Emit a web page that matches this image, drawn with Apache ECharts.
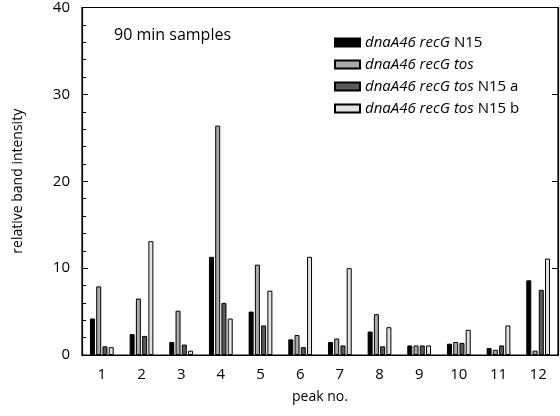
<!DOCTYPE html>
<html>
<head>
<meta charset="utf-8">
<script src="https://cdn.jsdelivr.net/npm/echarts@6/dist/echarts.min.js"></script>
<style>
  html, body { margin: 0; padding: 0; background: #fff; }
  #chart { width: 560px; height: 416px; }
</style>
</head>
<body>
<div id="chart"></div>
<script>
const peaks = ['1', '2', '3', '4', '5', '6', '7', '8', '9', '10', '11', '12']

// legend parts: italic part, plain part
const seriesItalic = ['dnaA46 recG', 'dnaA46 recG tos', 'dnaA46 recG tos', 'dnaA46 recG tos']
const seriesPlain = ['N15', '', 'N15 a', 'N15 b']
const seriesColors = ['#000000', '#aaaaaa', '#5a5a5a', '#e2e2e2']

const recgN15 = [4.2, 2.4, 1.5, 11.3, 5.0, 1.8, 1.5, 2.7, 1.1, 1.3, 0.8, 8.6]
const recgTos = [7.9, 6.5, 5.1, 26.4, 10.4, 2.3, 1.9, 4.7, 1.1, 1.5, 0.6, 0.5]
const tosN15a = [1.0, 2.2, 1.2, 6.0, 3.4, 0.9, 1.1, 1.0, 1.1, 1.4, 1.1, 7.5]
const tosN15b = [0.9, 13.1, 0.5, 4.2, 7.4, 11.3, 10.0, 3.2, 1.1, 2.9, 3.4, 11.1]

const seriesData = [recgN15, recgTos, tosN15a, tosN15b]
const seriesNames = seriesItalic.map((v, i) => (v + ' ' + seriesPlain[i]).trim())

const font = '"Open Sans", sans-serif'

const option = {
  animation: false,
  textStyle: { fontFamily: font },
  title: {
    text: '90 min samples',
    left: 109,
    top: 22,
    textStyle: { fontFamily: font, fontSize: 16, fontWeight: 'normal', color: '#000' }
  },
  legend: {
    orient: 'vertical',
    left: 329,
    top: 30,
    icon: 'rect',
    itemWidth: 25,
    itemHeight: 8,
    itemGap: 7,
    data: seriesNames,
    formatter(name) {
      let i = seriesNames.indexOf(name)
      return '{i|' + seriesItalic[i] + '}' + (seriesPlain[i] ? '{n| ' + seriesPlain[i] + '}' : '')
    },
    textStyle: {
      rich: {
        i: { fontFamily: font, fontSize: 15, fontStyle: 'italic', color: '#000' },
        n: { fontFamily: font, fontSize: 15, color: '#000' }
      }
    }
  },
  grid: {
    left: 82,
    right: 2,
    top: 6,
    bottom: 61,
    show: true,
    borderColor: '#000',
    borderWidth: 1.2
  },
  xAxis: {
    type: 'category',
    data: peaks,
    name: 'peak no.',
    nameLocation: 'middle',
    nameGap: 35,
    nameTextStyle: { fontFamily: font, fontSize: 14, color: '#000' },
    axisLine: { lineStyle: { color: '#000', width: 1.2 } },
    axisTick: { show: false },
    axisLabel: { fontFamily: font, fontSize: 15, color: '#000', margin: 12 }
  },
  yAxis: [
    {
      type: 'value',
      min: 0,
      max: 40,
      interval: 10,
      name: 'relative band intensity',
      nameLocation: 'middle',
      nameGap: 57,
      nameTextStyle: { fontFamily: font, fontSize: 14, color: '#000' },
      axisLine: { show: true, lineStyle: { color: '#000', width: 1.2 } },
      axisTick: { show: true, inside: true, length: 6, lineStyle: { color: '#000' } },
      minorTick: { show: true, splitNumber: 5, length: 4, lineStyle: { color: '#000' } },
      splitLine: { show: false },
      axisLabel: { fontFamily: font, fontSize: 15, color: '#000', margin: 12 }
    },
    {
      type: 'value',
      position: 'right',
      min: 0,
      max: 40,
      interval: 10,
      axisLine: { show: true, lineStyle: { color: '#000', width: 1.2 } },
      axisTick: { show: true, inside: true, length: 6, lineStyle: { color: '#000' } },
      splitLine: { show: false },
      axisLabel: { show: false }
    }
  ],
  series: seriesData.map((d, i) => ({
    name: seriesNames[i],
    type: 'bar',
    data: d,
    barWidth: 5,
    barGap: '25%',
    itemStyle: {
      color: seriesColors[i],
      borderColor: '#000',
      borderWidth: 1
    }
  }))
}

let chart = echarts.init(document.getElementById('chart'))
chart.setOption(option)
</script>
</body>
</html>
